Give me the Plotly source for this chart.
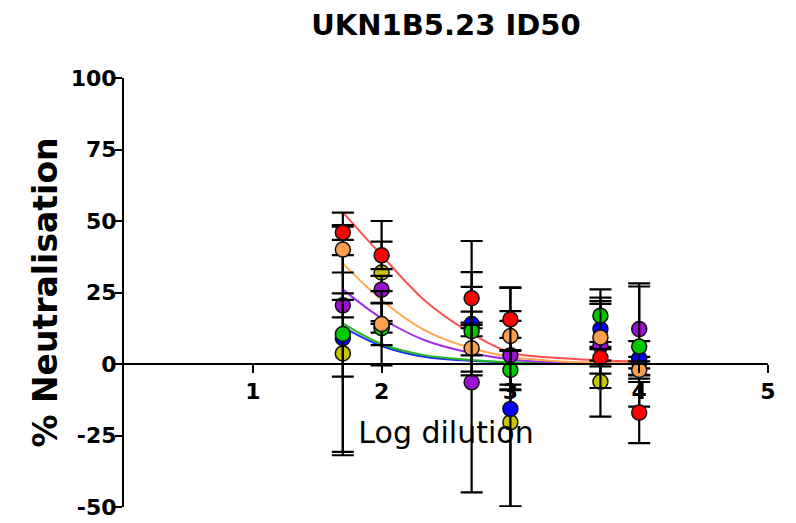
import plotly.graph_objects as go

# ---------------- data ----------------
log_dilution = [1.699, 2.0, 2.699, 3.0, 3.699, 4.0]

series_names = ["Yellow", "Purple", "Blue", "Green", "Orange", "Red"]

yellow_mean = [3.7, 32.0, 13.5, -20.4, -6.2, 0.5]
yellow_sd = [34.4, 18.0, 1.0, 29.5, 12.2, 2.0]

purple_mean = [20.5, 26.0, -6.4, 3.1, 6.3, 12.2]
purple_sd = [4.2, 4.8, 38.5, 12.0, 14.7, 16.0]

blue_mean = [9.0, 13.0, 14.0, -15.7, 12.2, 2.0]
blue_sd = [13.4, 2.0, 4.3, 34.2, 11.0, 6.0]

green_mean = [10.5, 12.5, 11.5, -2.1, 16.9, 6.1]
green_sd = [42.4, 13.0, 15.5, 7.0, 9.2, 21.0]

orange_mean = [40.0, 14.0, 5.5, 9.8, 9.3, -2.1]
orange_sd = [8.0, 7.4, 8.2, 17.0, 12.7, 3.0]

red_mean = [46.0, 38.0, 23.0, 15.6, 2.2, -17.0]
red_sd = [2.6, 4.8, 20.0, 11.0, 3.0, 10.7]

# fitted curves
fit_x = [1.699, 2.0, 2.33, 2.65, 3.0, 3.35, 3.7, 4.0]
red_fit = [53.0, 38.0, 22.4, 12.0, 4.0, 2.2, 1.3, 0.8]
orange_fit = [35.2, 22.4, 11.9, 6.1, 2.5, 1.0, 0.5, 0.3]
purple_fit = [26.1, 16.0, 8.4, 4.3, 1.6, 0.6, 0.3, 0.1]
green_fit = [14.2, 7.0, 3.1, 1.6, 0.6, 0.3, 0.1, 0.05]
blue_fit = [12.9, 6.3, 2.5, 1.2, 0.5, 0.2, 0.1, 0.05]

y_ticks = [-50, -25, 0, 25, 50, 75, 100]
x_ticks = [1, 2, 3, 4, 5]

# ---------------- styles ----------------
marker_colors = {
    "Yellow": "#c8c400",
    "Purple": "#9a10d0",
    "Blue": "#0000ff",
    "Green": "#00c800",
    "Orange": "#f8a050",
    "Red": "#ff0000",
}
line_colors = {
    "Purple": "#a030e8",
    "Blue": "#2030f0",
    "Green": "#20b820",
    "Orange": "#ffa850",
    "Red": "#ff5050",
}

fig = go.Figure()

fits = [("Blue", blue_fit), ("Green", green_fit), ("Purple", purple_fit),
        ("Orange", orange_fit), ("Red", red_fit)]
for name, ys in fits:
    fig.add_trace(go.Scatter(
        x=fit_x, y=ys, mode="lines", line=dict(color=line_colors[name], width=2, shape="spline"),
        hoverinfo="skip", showlegend=False))

data = {
    "Yellow": (yellow_mean, yellow_sd),
    "Purple": (purple_mean, purple_sd),
    "Blue": (blue_mean, blue_sd),
    "Green": (green_mean, green_sd),
    "Orange": (orange_mean, orange_sd),
    "Red": (red_mean, red_sd),
}
for name in series_names:
    m, sd = data[name]
    fig.add_trace(go.Scatter(
        x=log_dilution, y=m, mode="markers", name=name,
        marker=dict(size=15, color=marker_colors[name], line=dict(color="#111111", width=1.5)),
        error_y=dict(type="data", array=sd, visible=True, color="#000000", thickness=2.2, width=11),
        showlegend=False))

tick_font = dict(family="DejaVu Sans, sans-serif", size=22, color="#000000", weight="bold")

W, H = 796, 523
fig.update_layout(
    width=W, height=H,
    margin=dict(l=124, r=28, t=78, b=16),
    paper_bgcolor="white", plot_bgcolor="white",
    title=dict(text="UKN1B5.23 ID50", x=0.5, xref="paper", xanchor="center",
               y=1 - 25 / H, yref="container", yanchor="middle",
               font=dict(family="DejaVu Sans, sans-serif", size=29, color="#000000", weight="bold")),
    xaxis=dict(range=[0, 5], tickvals=x_ticks, ticktext=[str(v) for v in x_ticks],
               anchor="free", position=1 / 3, showline=True, linecolor="#000000", linewidth=2,
               ticks="outside", ticklen=8, tickwidth=2, tickcolor="#000000", automargin=False,
               showgrid=False, zeroline=False, tickfont=tick_font,
               title=dict(text="Log dilution", standoff=18,
                          font=dict(family="DejaVu Sans, sans-serif", size=30, color="#000000"))),
    yaxis=dict(range=[-50, 100], tickvals=y_ticks, ticktext=[str(v) for v in y_ticks],
               showline=True, linecolor="#000000", linewidth=2, automargin=False,
               ticks="outside", ticklen=7, tickwidth=2, tickcolor="#000000",
               ticklabelstandoff=-6, ticklabeloverflow="allow",
               showgrid=False, zeroline=False, tickfont=tick_font,
               title=dict(text="% Neutralisation", standoff=3,
                          font=dict(family="DejaVu Sans, sans-serif", size=33, color="#000000", weight="bold"))),
)

# remove the default 8px page margin so the figure fills the window exactly
fig.write_html("out.html", config={"displayModeBar": False},
               post_script="document.body.style.margin='0';")
